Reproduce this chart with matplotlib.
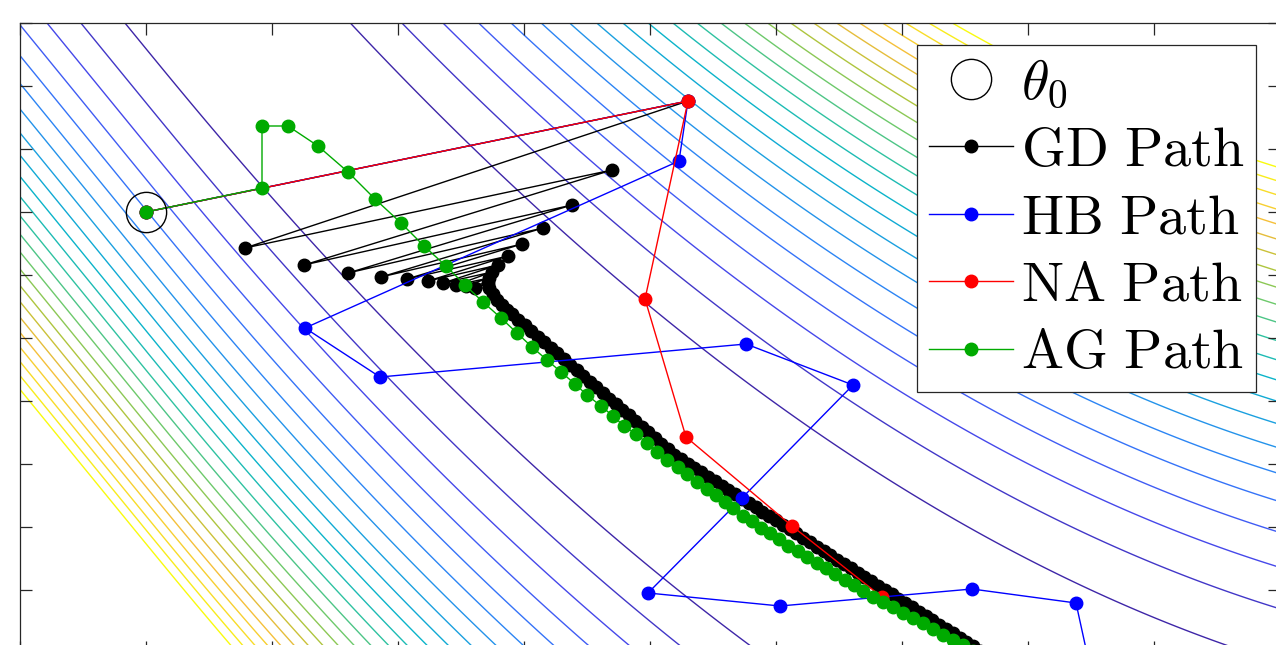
import numpy as np
import matplotlib
matplotlib.use('Agg')
import matplotlib.pyplot as plt
from matplotlib.colors import LinearSegmentedColormap

plt.rcParams['mathtext.fontset'] = 'cm'

# starting point
theta0 = (126, 441)

# gradient descent path
gd_x = [126, 668, 225, 592, 284, 552, 328, 523, 361, 502, 387, 488, 408, 478, 423, 472,
        436, 469, 446, 468, 455, 469, 473, 477, 482, 487,
        492, 498, 505, 511, 518, 524, 531, 537, 544, 550, 557, 563, 570, 576, 583, 589,
        596, 602, 609, 615, 622, 628, 635, 641, 648, 654,
        661, 668, 674, 681, 688, 695, 702, 708, 715, 722, 729, 736, 742, 749, 756, 763,
        770, 776, 783, 790, 797, 804, 810, 817, 824, 831, 838, 844, 851, 858, 865, 872,
        878, 885, 892, 899, 906, 912, 919, 926, 933, 940, 946, 953, 960, 967, 974]
gd_y = [441, 552, 405, 483, 388, 448, 380, 425, 376, 409, 374, 397, 372, 388, 370, 381,
        368, 375, 367, 370, 365, 365, 359, 353, 348, 343,
        339, 333, 328, 322, 316, 311, 305, 300, 294, 288, 283, 277, 271, 266, 260, 254,
        249, 243, 238, 232, 226, 221, 215, 209, 204, 198,
        194, 189, 185, 181, 176, 172, 167, 163, 159, 154, 150, 146, 141, 137, 133, 128,
        124, 120, 115, 111, 106, 102, 98, 93, 89, 85, 80, 76, 72, 67, 63, 59,
        54, 50, 46, 41, 37, 33, 28, 24, 20, 15, 11, 7, 2, -2, -7]

# heavy ball path
hb_x = [126, 668, 659, 285, 360, 726, 833, 722, 628, 760, 952, 1056, 1075]
hb_y = [441, 552, 492, 325, 276, 309, 268, 155, 60, 47, 64, 50, -37]

# nesterov path
na_x = [126, 668, 625, 666, 772, 862, 970]
na_y = [441, 552, 354, 216, 127, 56, -11]

# accelerated gradient path
ag_x = [126, 242, 242, 268, 298, 328, 355, 381, 404, 426, 445, 463, 481, 497, 512, 527,
        541, 555, 567, 581, 593, 604, 616, 627, 637, 647, 658, 667, 677, 687, 696, 705,
        713, 723, 732, 741, 750, 759, 768, 778, 787, 797, 806, 815, 825, 834, 843, 853,
        863, 873, 883, 893, 903, 913, 923, 933, 943, 953, 963]
ag_y = [441, 465, 527, 527, 507, 481, 454, 430, 407, 387, 368, 351, 335, 320, 306, 293,
        281, 269, 258, 247, 237, 227, 219, 210, 201, 193, 186, 179, 171, 164, 158, 151,
        145, 137, 132, 125, 120, 114, 107, 102, 96, 90, 85, 79, 73, 68, 62, 56,
        51, 46, 40, 35, 30, 24, 18, 13, 8, 2, -3]

# loss surface: quadratic valley around a bent curve
valley_a, valley_b, valley_c, valley_k = 14.11, 2.45, 0.103, 1.1
valley_width = 130.4
levels = np.arange(1, 24)

parula = LinearSegmentedColormap.from_list('parula', [
    (0.2422, 0.1504, 0.6603), (0.2788, 0.2973, 0.9435), (0.19, 0.49, 0.98),
    (0.12, 0.61, 0.89), (0.03, 0.70, 0.80), (0.18, 0.76, 0.63),
    (0.45, 0.79, 0.40), (0.73, 0.77, 0.21), (0.96, 0.73, 0.24),
    (0.97, 0.85, 0.17), (0.9763, 0.9831, 0.0538)])

fig = plt.figure(figsize=(12.76, 6.45), dpi=100)
ax = fig.add_axes([20/1276, -8/645, 1260/1276, 630/645])

xx = np.linspace(0, 1260, 700)
yy = np.linspace(0, 630, 400)
X, Y = np.meshgrid(xx, yy)
t = X / 126
ramp = 0.5 * ((t - valley_k) + np.sqrt((t - valley_k)**2 + 0.09))
yv = 63 * (valley_a - valley_b * t + valley_c * ramp**2)
F = ((Y - yv) / valley_width)**2
ax.contour(X, Y, F, levels=levels, cmap=parula, vmin=1, vmax=23, linewidths=1.0, zorder=1)

ms = 9
ax.plot(*theta0, 'o', ms=29, mfc='none', mec='k', mew=1.0, ls='none', zorder=6, label=r'$\theta_0$')
ax.plot(gd_x, gd_y, '-o', color='k', lw=1.0, ms=ms, label=r'$\mathrm{GD\ Path}$', zorder=2)
ax.plot(hb_x, hb_y, '-o', color='b', lw=1.0, ms=ms, label=r'$\mathrm{HB\ Path}$', zorder=3)
ax.plot(na_x, na_y, '-o', color='r', lw=1.0, ms=ms, label=r'$\mathrm{NA\ Path}$', zorder=4)
ax.plot(ag_x, ag_y, '-o', color='#00aa00', lw=1.0, ms=ms, label=r'$\mathrm{AG\ Path}$', zorder=5)

ax.set_xlim(0, 1260)
ax.set_ylim(0, 630)
ax.set_xticks(np.arange(0, 1261, 126))
ax.set_yticks(np.arange(0, 631, 63))
ax.tick_params(direction='in', length=8.6, width=0.9, color='#262626',
               top=True, right=True, labelbottom=False, labelleft=False)
for s in ax.spines.values():
    s.set_color('#262626')
    s.set_linewidth(0.9)

leg = ax.legend(loc='upper right', bbox_to_anchor=(1256/1276, 1 - 45/645),
                bbox_transform=fig.transFigure, borderaxespad=0, fontsize=40.5,
                fancybox=False, framealpha=1, edgecolor='#262626',
                handlelength=1.5, handletextpad=0.14, borderpad=0.2,
                labelspacing=0.24, numpoints=1)
leg.get_frame().set_linewidth(0.9)
leg.set_zorder(10)

fig.savefig('out.png', dpi=100)
